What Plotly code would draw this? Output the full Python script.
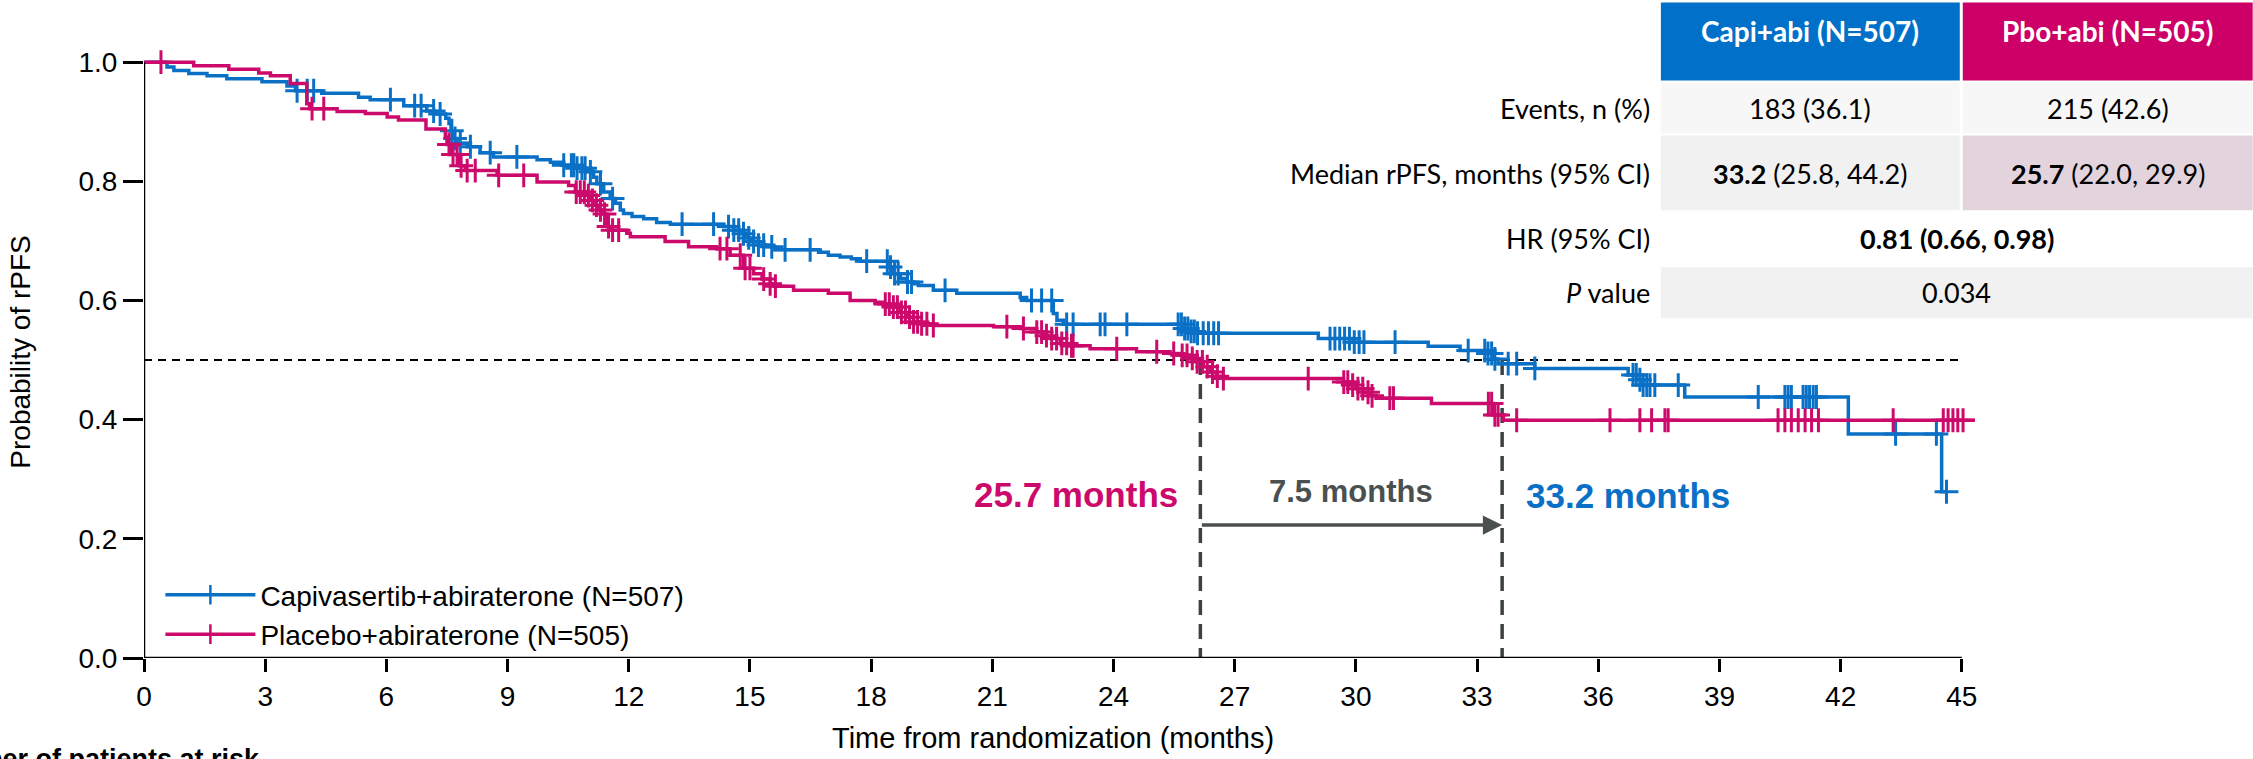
import plotly.graph_objects as go

# ---------------- data ----------------
capi_t = [0, 0.57, 0.74, 1.11, 1.56, 2.05, 2.92, 3.54, 3.75, 4.4, 5.31, 5.6, 6.43, 7.0, 7.2, 7.47,
          7.55, 7.6, 7.65, 7.75, 8.0, 8.32, 8.65, 9.73, 10.06, 10.39, 10.7, 10.95, 11.13, 11.21,
          11.38, 11.54, 11.67, 11.79, 11.87, 12.08, 12.37, 12.69, 13.03, 14.35, 14.6, 14.75, 14.9,
          15.05, 15.2, 15.38, 15.62, 16.7, 16.94, 17.23, 17.51, 17.73, 18.47, 18.55, 18.72, 18.88,
          19.05, 19.17, 19.54, 20.12, 21.69, 21.85, 22.51, 22.6, 22.76, 25.75, 25.9, 26.05, 29.07,
          29.93, 31.79, 32.58, 33.24, 33.4, 33.52, 34.43, 36.74, 36.95, 37.11, 38.14, 42.19, 44.5, 44.62]
capi_s = [1.0, 0.992, 0.986, 0.981, 0.977, 0.972, 0.967, 0.960, 0.952, 0.948, 0.941, 0.937, 0.927,
          0.918, 0.913, 0.906, 0.897, 0.885, 0.872, 0.864, 0.858, 0.848, 0.841, 0.836, 0.832, 0.827,
          0.822, 0.816, 0.807, 0.796, 0.782, 0.771, 0.763, 0.752, 0.746, 0.741, 0.737, 0.731, 0.728,
          0.724, 0.718, 0.712, 0.705, 0.699, 0.693, 0.690, 0.685, 0.681, 0.676, 0.673, 0.670, 0.666,
          0.656, 0.645, 0.637, 0.631, 0.628, 0.625, 0.617, 0.612, 0.605, 0.600, 0.578, 0.567, 0.560,
          0.553, 0.548, 0.545, 0.536, 0.530, 0.523, 0.516, 0.511, 0.502, 0.494, 0.486, 0.475, 0.467,
          0.458, 0.438, 0.376, 0.279, 0.279]
capi_cens = [3.79, 4.04, 4.2, 6.1, 6.7, 6.86, 7.17, 7.33, 7.62, 7.7, 7.83, 8.08, 8.57, 9.23, 10.39,
             10.58, 10.64, 10.72, 10.84, 10.92, 11.05, 11.3, 11.6, 13.32, 14.1, 14.47, 14.6, 14.72,
             14.84, 14.97, 15.09, 15.21, 15.34, 15.54, 15.87, 16.49, 17.89, 18.4, 18.48, 18.58, 18.67,
             18.9, 19.0, 19.83, 21.97, 22.22, 22.47, 22.84, 23.0, 23.67, 23.79, 24.33, 25.6, 25.68,
             25.76, 25.84, 25.92, 26.0, 26.08, 26.22, 26.35, 26.48, 26.6, 29.36, 29.48, 29.6, 29.72,
             29.84, 29.96, 30.08, 30.2, 30.97, 32.78, 33.19, 33.27, 33.36, 33.44, 33.77, 33.98, 34.43,
             36.86, 36.94, 37.03, 37.11, 37.2, 37.28, 37.4, 37.98, 39.96, 40.62, 40.7, 40.78, 41.07,
             41.15, 41.23, 41.32, 41.4, 43.36, 44.37, 44.62]

pbo_t = [0, 1.23, 2.1, 2.84, 3.13, 3.62, 4.03, 4.1, 4.78, 5.48, 6.02, 6.3, 6.98, 7.46, 7.5, 7.62,
         7.8, 7.95, 8.74, 9.73, 10.51, 10.68, 10.96, 11.05, 11.15, 11.25, 11.35, 11.46, 11.54, 11.95,
         12.04, 12.9, 13.48, 14.18, 14.51, 14.84, 15.09, 15.3, 15.5, 15.6, 16.08, 16.94, 17.48, 18.1,
         18.3, 18.55, 18.72, 18.88, 19.05, 19.21, 19.54, 21.03, 21.69, 22.1, 22.27, 22.43, 22.68,
         22.92, 23.42, 24.57, 25.4, 25.65, 25.89, 26.06, 26.22, 26.39, 26.55, 26.72, 29.69, 29.85,
         30.02, 30.18, 30.35, 30.5, 31.87, 33.4, 33.65, 45.32]
pbo_s = [1.0, 0.994, 0.988, 0.982, 0.977, 0.964, 0.930, 0.922, 0.917, 0.914, 0.908, 0.903, 0.888,
         0.874, 0.862, 0.845, 0.826, 0.818, 0.810, 0.799, 0.793, 0.782, 0.776, 0.768, 0.760, 0.752,
         0.745, 0.724, 0.718, 0.713, 0.707, 0.699, 0.690, 0.687, 0.676, 0.654, 0.645, 0.636, 0.628,
         0.624, 0.617, 0.612, 0.600, 0.597, 0.594, 0.589, 0.580, 0.572, 0.564, 0.561, 0.558, 0.556,
         0.553, 0.547, 0.541, 0.536, 0.528, 0.524, 0.519, 0.514, 0.511, 0.508, 0.503, 0.497, 0.489,
         0.480, 0.473, 0.469, 0.463, 0.458, 0.452, 0.446, 0.440, 0.436, 0.427, 0.408, 0.399, 0.399]
pbo_cens = [0.42, 4.16, 4.45, 7.55, 7.65, 7.75, 7.85, 8.0, 8.2, 8.78, 9.4, 10.7, 10.8, 10.9, 11.0,
            11.1, 11.2, 11.3, 11.4, 11.5, 11.6, 11.75, 14.26, 14.43, 14.76, 14.88, 15.0, 15.34, 15.5,
            15.63, 18.35, 18.45, 18.55, 18.65, 18.75, 18.85, 18.95, 19.05, 19.15, 19.25, 19.38, 19.54,
            21.36, 21.77, 22.1, 22.22, 22.34, 22.47, 22.59, 22.72, 22.84, 22.96, 23.0, 24.08, 25.07,
            25.49, 25.7, 25.82, 25.95, 26.07, 26.2, 26.32, 26.45, 26.57, 26.72, 28.82, 29.7, 29.8,
            29.92, 30.05, 30.17, 30.3, 30.4, 30.84, 30.93, 33.28, 33.36, 33.44, 33.52, 33.98, 36.29,
            37.03, 37.32, 37.65, 37.73, 40.45, 40.62, 40.78, 40.95, 41.12, 41.28, 41.45, 43.3, 44.54,
            44.66, 44.78, 44.9, 45.03]

x_ticks = list(range(0, 46, 3))
y_ticks = [0.0, 0.2, 0.4, 0.6, 0.8, 1.0]
y_tick_labels = ["0.0", "0.2", "0.4", "0.6", "0.8", "1.0"]

median_pbo_line = 26.15   # position of dashed drop lines as drawn in the reference
median_capi_line = 33.62

legend_names = ["Capivasertib+abiraterone (N=507)", "Placebo+abiraterone (N=505)"]
table_cols = ["Capi+abi (N=507)", "Pbo+abi (N=505)"]
row_labels = ["Events, n (%)", "Median rPFS, months (95% CI)", "HR (95% CI)", "<i>P</i> value"]
events = ["183 (36.1)", "215 (42.6)"]
medians = ["<b>33.2</b> (25.8, 44.2)", "<b>25.7</b> (22.0, 29.9)"]
hr_text = "<b>0.81 (0.66, 0.98)</b>"
p_text = "0.034"

BLUE = "#0A70C6"
PINK = "#CC0A6C"
BLUE_HDR = "#0070C8"
PINK_HDR = "#CC0066"
GREY_TXT = "#4A5050"
FONT = "Liberation Sans, Arial, sans-serif"
TFONT = "Lato, Carlito, sans-serif"


def surv_at(ts, ss, t):
    v = ss[0]
    for ti, si in zip(ts, ss):
        if ti <= t:
            v = si
        else:
            break
    return v


# ---------------- geometry (pixels of the 2253x759 page) ----------------
W, H = 2253, 759
L_PX, B_PX = 143.6, 658.0
X_MAX, Y_MAX = 45.4, 1.012
PX_MONTH = 40.41
PX_UNIT = 596.3
R_PX = L_PX + X_MAX * PX_MONTH
T_PX = B_PX - Y_MAX * PX_UNIT


def px(p):
    return (p - L_PX) / (R_PX - L_PX)


def py(p):
    return (B_PX - p) / (B_PX - T_PX)


fig = go.Figure()

for ts, ss, cens, col, name in [(capi_t, capi_s, capi_cens, BLUE, legend_names[0]),
                                (pbo_t, pbo_s, pbo_cens, PINK, legend_names[1])]:
    fig.add_trace(go.Scatter(x=ts, y=ss, mode="lines", line=dict(color=col, width=3.5, shape="hv"),
                             showlegend=False, hoverinfo="skip"))
    fig.add_trace(go.Scatter(x=cens, y=[surv_at(ts, ss, c) for c in cens], mode="markers",
                             marker=dict(symbol="cross-thin", size=17, line=dict(color=col, width=3)),
                             showlegend=False, cliponaxis=False, hoverinfo="skip"))
    fig.add_trace(go.Scatter(x=[None], y=[None], mode="lines+markers", name=name,
                             line=dict(color=col, width=3.5),
                             marker=dict(symbol="cross-thin", size=14, line=dict(color=col, width=2.5))))

shapes = []
# axis lines
shapes.append(dict(type="line", xref="x", yref="y", x0=0, x1=45, y0=0, y1=0,
                   line=dict(color="black", width=2.5)))
shapes.append(dict(type="line", xref="x", yref="y", x0=0, x1=0, y0=0, y1=1.0,
                   line=dict(color="black", width=2.5)))
# median reference lines
shapes.append(dict(type="line", xref="x", yref="y", x0=0, x1=45, y0=0.5, y1=0.5, layer="below",
                   line=dict(color="black", width=2, dash="8px,6px")))
for xm in (median_pbo_line, median_capi_line):
    shapes.append(dict(type="line", xref="x", yref="y", x0=xm, x1=xm, y0=0.5, y1=0.0, layer="below",
                       line=dict(color="#3C4242", width=3.5, dash="15px,9px")))

# ---------------- table ----------------
c1x0, c1x1 = 1661, 1960
c2x0, c2x1 = 1963, 2253
rows = [(2, 80), (82, 133), (135, 210), (213, 264), (267, 318)]


def rect(x0, x1, y0, y1, color):
    shapes.append(dict(type="rect", xref="paper", yref="paper", x0=px(x0), x1=px(x1), y0=py(y1),
                       y1=py(y0), fillcolor=color, line=dict(width=0), layer="above"))


rect(c1x0, c1x1, *rows[0], BLUE_HDR)
rect(c2x0, c2x1, *rows[0], PINK_HDR)
rect(c1x0, c1x1, *rows[1], "#F7F7F7")
rect(c2x0, c2x1, *rows[1], "#F7F7F7")
rect(c1x0, c1x1, *rows[2], "#F1F1F1")
rect(c2x0, c2x1, *rows[2], "#E3D3DD")
rect(c1x0, c2x1, *rows[4], "#F1F1F1")

annotations = []


def txt(text, xp, yp, size, color="black", xanchor="center", family=TFONT, bold=False, angle=0):
    annotations.append(dict(text=("<b>%s</b>" % text) if bold else text, xref="paper", yref="paper",
                            x=px(xp), y=py(yp), xanchor=xanchor, yanchor="middle", showarrow=False,
                            textangle=angle, font=dict(family=family, size=size, color=color)))


mid1 = (c1x0 + c1x1) / 2
mid2 = (c2x0 + c2x1) / 2
TS = 27
txt(table_cols[0], mid1, 31, 28, "white", bold=True)
txt(table_cols[1], mid2, 31, 28, "white", bold=True)
label_x = 1652
row_y = [108, 173, 238, 292]
for lab, yy in zip(row_labels, row_y):
    txt(lab, label_x, yy, TS, xanchor="right")
txt(events[0], mid1, row_y[0], TS)
txt(events[1], mid2, row_y[0], TS)
txt(medians[0], mid1, row_y[1], TS)
txt(medians[1], mid2, row_y[1], TS)
txt(hr_text, 1957, row_y[2], TS)
txt(p_text, 1957, row_y[3], TS)

# chart annotations
annotations.append(dict(text="<b>25.7 months</b>", xref="x", yref="y", x=median_pbo_line - 0.5,
                        y=(B_PX - 494) / PX_UNIT, xanchor="right", yanchor="middle", showarrow=False,
                        font=dict(family=FONT, size=35, color=PINK)))
annotations.append(dict(text="<b>33.2 months</b>", xref="x", yref="y", x=median_capi_line + 0.55,
                        y=(B_PX - 495) / PX_UNIT, xanchor="left", yanchor="middle", showarrow=False,
                        font=dict(family=FONT, size=35, color=BLUE)))
annotations.append(dict(text="<b>7.5 months</b>", xref="x", yref="y",
                        x=(median_pbo_line + median_capi_line) / 2, y=(B_PX - 491) / PX_UNIT,
                        xanchor="center", yanchor="middle", showarrow=False,
                        font=dict(family=FONT, size=31, color=GREY_TXT)))
annotations.append(dict(text="", xref="x", yref="y", axref="x", ayref="y",
                        x=median_capi_line, y=(B_PX - 525) / PX_UNIT,
                        ax=median_pbo_line, ay=(B_PX - 525) / PX_UNIT,
                        showarrow=True, arrowhead=2, arrowsize=1.1, arrowwidth=3.5,
                        arrowcolor=GREY_TXT, standoff=0))
# axis titles
txt("Probability of rPFS", 20, 352, 28, family=FONT, angle=-90)
txt("Time from randomization (months)", 1053, 738, 29, family=FONT)
annotations.append(dict(text="<b>Number of patients at risk</b>", xref="paper", yref="paper",
                        x=px(262), y=py(742), xanchor="right", yanchor="top", showarrow=False,
                        font=dict(family=FONT, size=27, color="black")))

fig.update_layout(
    width=W, height=H,
    margin=dict(l=L_PX, r=W - R_PX, t=T_PX, b=H - B_PX, pad=0),
    paper_bgcolor="white", plot_bgcolor="white",
    font=dict(family=FONT, color="black"),
    shapes=shapes, annotations=annotations,
    legend=dict(x=px(160), y=py(570), xanchor="left", yanchor="top", bgcolor="rgba(0,0,0,0)",
                font=dict(family=FONT, size=28, color="black"), itemwidth=90,
                tracegroupgap=0),
    xaxis=dict(range=[0, X_MAX], tickmode="array", tickvals=x_ticks, ticks="outside", ticklen=13,
               tickwidth=2.5, tickcolor="black", showgrid=False, zeroline=False, showline=False,
               tickfont=dict(family=FONT, size=28, color="black")),
    yaxis=dict(range=[0, Y_MAX], tickmode="array", tickvals=y_ticks, ticktext=y_tick_labels,
               ticks="outside", ticklen=20, tickwidth=2.5, tickcolor="black", showgrid=False,
               zeroline=False, showline=False,
               tickfont=dict(family=FONT, size=28, color="black")),
)

fig.write_html("out.html")
